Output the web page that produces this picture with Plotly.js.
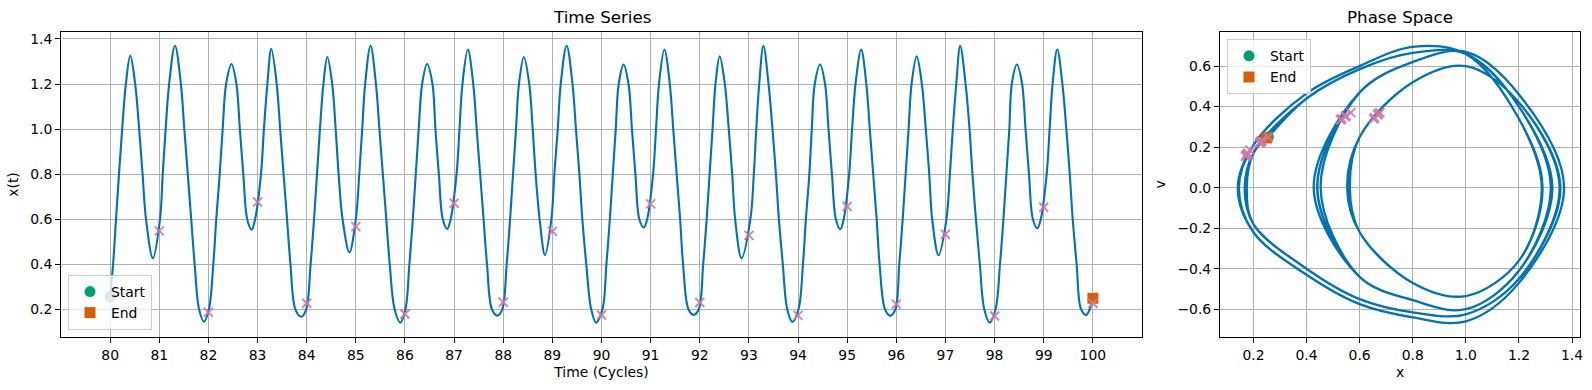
<!DOCTYPE html>
<html>
<head>
<meta charset="utf-8">
<script src="https://cdn.plot.ly/plotly-3.0.1.min.js"></script>
<style>
html, body { margin: 0; padding: 0; background: #ffffff; }
#chart { width: 1592px; height: 390px; }
</style>
</head>
<body>
<div id="chart"></div>
<script>
// ---- Trajectory samples (extrema and level crossings) ----
const timeCycles = [
  80.00, 80.06, 80.12, 80.18, 80.245, 80.32, 80.41,
  80.51, 80.59, 80.66, 80.73, 80.87,
  81.015, 81.07, 81.13, 81.20, 81.32,
  81.44, 81.51, 81.58, 81.65, 81.72, 81.81, 81.91,
  82.01, 82.10, 82.16, 82.23, 82.29, 82.36, 82.47,
  82.57, 82.64, 82.71, 82.79, 82.88,
  82.95, 83.07, 83.13, 83.20, 83.28,
  83.39, 83.46, 83.53, 83.60, 83.67, 83.77, 83.89,
  83.99, 84.08, 84.15, 84.21, 84.27, 84.34, 84.42,
  84.52, 84.59, 84.65, 84.73, 84.87,
  85.00, 85.07, 85.13, 85.19, 85.30,
  85.41, 85.48, 85.55, 85.62, 85.69, 85.79, 85.905,
  86.01, 86.09, 86.16, 86.22, 86.28, 86.35, 86.45,
  86.56, 86.62, 86.69, 86.77, 86.86,
  86.93, 87.05, 87.11, 87.17, 87.28,
  87.39, 87.46, 87.53, 87.60, 87.67, 87.77, 87.88,
  87.98, 88.07, 88.14, 88.20, 88.26, 88.32, 88.42,
  88.53, 88.60, 88.66, 88.74, 88.85,
  88.98, 89.04, 89.11, 89.17, 89.29,
  89.41, 89.48, 89.55, 89.61, 89.69, 89.79, 89.89,
  90.02, 90.10, 90.17, 90.23, 90.29, 90.35, 90.45,
  90.55, 90.62, 90.69, 90.77, 90.86,
  90.93, 91.05, 91.11, 91.17, 91.28,
  91.39, 91.46, 91.53, 91.60, 91.66, 91.77, 91.875,
  91.98, 92.07, 92.14, 92.20, 92.26, 92.32, 92.405,
  92.51, 92.59, 92.66, 92.72, 92.85,
  93.03, 93.10, 93.15, 93.21, 93.295,
  93.40, 93.48, 93.55, 93.61, 93.69, 93.78, 93.885,
  94.01, 94.10, 94.16, 94.23, 94.28, 94.34, 94.45,
  94.55, 94.62, 94.69, 94.77, 94.86,
  94.93, 95.04, 95.10, 95.17, 95.285,
  95.39, 95.46, 95.53, 95.60, 95.66, 95.77, 95.875,
  95.98, 96.06, 96.13, 96.19, 96.25, 96.31, 96.415,
  96.52, 96.60, 96.67, 96.73, 96.86,
  97.02, 97.09, 97.15, 97.22, 97.30,
  97.41, 97.49, 97.55, 97.62, 97.70, 97.79, 97.90,
  98.02, 98.11, 98.18, 98.24, 98.30, 98.35, 98.455,
  98.56, 98.63, 98.70, 98.78, 98.87,
  98.94, 99.06, 99.12, 99.18, 99.275,
  99.38, 99.46, 99.53, 99.59, 99.67, 99.76, 99.865,
  99.935, 100.00
];
const xValues = [
  0.256, 0.4, 0.6, 0.8, 1.0, 1.2, 1.326,
  1.2, 1.0, 0.8, 0.6, 0.427,
  0.6, 0.8, 1.0, 1.2, 1.370,
  1.2, 1.0, 0.8, 0.6, 0.4, 0.2, 0.145,
  0.2, 0.4, 0.6, 0.8, 1.0, 1.2, 1.289,
  1.2, 1.0, 0.8, 0.6, 0.553,
  0.6, 0.8, 1.0, 1.2, 1.356,
  1.2, 1.0, 0.8, 0.6, 0.4, 0.2, 0.167,
  0.2, 0.4, 0.6, 0.8, 1.0, 1.2, 1.320,
  1.2, 1.0, 0.8, 0.6, 0.453,
  0.6, 0.8, 1.0, 1.2, 1.370,
  1.2, 1.0, 0.8, 0.6, 0.4, 0.2, 0.141,
  0.2, 0.4, 0.6, 0.8, 1.0, 1.2, 1.289,
  1.2, 1.0, 0.8, 0.6, 0.557,
  0.6, 0.8, 1.0, 1.2, 1.353,
  1.2, 1.0, 0.8, 0.6, 0.4, 0.2, 0.172,
  0.2, 0.4, 0.6, 0.8, 1.0, 1.2, 1.320,
  1.2, 1.0, 0.8, 0.6, 0.441,
  0.6, 0.8, 1.0, 1.2, 1.370,
  1.2, 1.0, 0.8, 0.6, 0.4, 0.2, 0.141,
  0.2, 0.4, 0.6, 0.8, 1.0, 1.2, 1.286,
  1.2, 1.0, 0.8, 0.6, 0.563,
  0.6, 0.8, 1.0, 1.2, 1.353,
  1.2, 1.0, 0.8, 0.6, 0.4, 0.2, 0.175,
  0.2, 0.4, 0.6, 0.8, 1.0, 1.2, 1.323,
  1.2, 1.0, 0.8, 0.6, 0.427,
  0.6, 0.8, 1.0, 1.2, 1.370,
  1.2, 1.0, 0.8, 0.6, 0.4, 0.2, 0.144,
  0.2, 0.4, 0.6, 0.8, 1.0, 1.2, 1.287,
  1.2, 1.0, 0.8, 0.6, 0.556,
  0.6, 0.8, 1.0, 1.2, 1.353,
  1.2, 1.0, 0.8, 0.6, 0.4, 0.2, 0.172,
  0.2, 0.4, 0.6, 0.8, 1.0, 1.2, 1.323,
  1.2, 1.0, 0.8, 0.6, 0.440,
  0.6, 0.8, 1.0, 1.2, 1.370,
  1.2, 1.0, 0.8, 0.6, 0.4, 0.2, 0.141,
  0.2, 0.4, 0.6, 0.8, 1.0, 1.2, 1.287,
  1.2, 1.0, 0.8, 0.6, 0.560,
  0.6, 0.8, 1.0, 1.2, 1.353,
  1.2, 1.0, 0.8, 0.6, 0.4, 0.2, 0.175,
  0.2, 0.249
];
const vValues = [
  0.25, 0.44, 0.585, 0.665, 0.66, 0.40, 0,
  -0.41, -0.60, -0.555, -0.44, 0,
  0.47, 0.62, 0.67, 0.46, 0,
  -0.47, -0.66, -0.64, -0.575, -0.43, -0.22, 0,
  0.21, 0.465, 0.60, 0.695, 0.66, 0.34, 0,
  -0.36, -0.535, -0.47, -0.22, 0,
  0.25, 0.52, 0.60, 0.42, 0,
  -0.45, -0.625, -0.615, -0.55, -0.40, -0.18, 0,
  0.17, 0.44, 0.585, 0.665, 0.66, 0.40, 0,
  -0.41, -0.60, -0.555, -0.44, 0,
  0.47, 0.62, 0.67, 0.46, 0,
  -0.47, -0.66, -0.64, -0.575, -0.43, -0.22, 0,
  0.21, 0.465, 0.60, 0.695, 0.66, 0.34, 0,
  -0.36, -0.535, -0.47, -0.22, 0,
  0.25, 0.52, 0.60, 0.42, 0,
  -0.45, -0.625, -0.615, -0.55, -0.40, -0.18, 0,
  0.17, 0.44, 0.585, 0.665, 0.66, 0.40, 0,
  -0.41, -0.60, -0.555, -0.44, 0,
  0.47, 0.62, 0.67, 0.46, 0,
  -0.47, -0.66, -0.64, -0.575, -0.43, -0.22, 0,
  0.21, 0.465, 0.60, 0.695, 0.66, 0.34, 0,
  -0.36, -0.535, -0.47, -0.22, 0,
  0.25, 0.52, 0.60, 0.42, 0,
  -0.45, -0.625, -0.615, -0.55, -0.40, -0.18, 0,
  0.17, 0.44, 0.585, 0.665, 0.66, 0.40, 0,
  -0.41, -0.60, -0.555, -0.44, 0,
  0.47, 0.62, 0.67, 0.46, 0,
  -0.47, -0.66, -0.64, -0.575, -0.43, -0.22, 0,
  0.21, 0.465, 0.60, 0.695, 0.66, 0.34, 0,
  -0.36, -0.535, -0.47, -0.22, 0,
  0.25, 0.52, 0.60, 0.42, 0,
  -0.45, -0.625, -0.615, -0.55, -0.40, -0.18, 0,
  0.17, 0.44, 0.585, 0.665, 0.66, 0.40, 0,
  -0.41, -0.60, -0.555, -0.44, 0,
  0.47, 0.62, 0.67, 0.46, 0,
  -0.47, -0.66, -0.64, -0.575, -0.43, -0.22, 0,
  0.21, 0.465, 0.60, 0.695, 0.66, 0.34, 0,
  -0.36, -0.535, -0.47, -0.22, 0,
  0.25, 0.52, 0.60, 0.42, 0,
  -0.45, -0.625, -0.615, -0.55, -0.40, -0.18, 0,
  0.17, 0.245
];

// ---- Stroboscopic samples (once per cycle) ----
const strobeTimes = [80, 81, 82, 83, 84, 85, 86, 87, 88, 89, 90, 91, 92, 93, 94, 95, 96, 97, 98, 99, 100];
const strobeX = [0.256, 0.548, 0.187, 0.676, 0.227, 0.567, 0.179, 0.671, 0.231, 0.546, 0.175,
                 0.668, 0.230, 0.528, 0.173, 0.656, 0.223, 0.533, 0.170, 0.653, 0.227];
const strobeV = [0.25, 0.355, 0.185, 0.37, 0.225, 0.37, 0.17, 0.365, 0.23, 0.35, 0.165,
                 0.36, 0.23, 0.335, 0.16, 0.345, 0.22, 0.34, 0.155, 0.34, 0.225];

// ---- Start / end points ----
const startT = [80];   const startX = [0.256]; const startV = [0.25];
const endT = [100];    const endX = [0.249];   const endV = [0.245];

// ---- Tick labels ----
const timeTicks = [80, 81, 82, 83, 84, 85, 86, 87, 88, 89, 90, 91, 92, 93, 94, 95, 96, 97, 98, 99, 100];
const timeTickLabels = timeTicks.map(String);
const xTicks = [0.2, 0.4, 0.6, 0.8, 1.0, 1.2, 1.4];
const xTickLabels = ['0.2', '0.4', '0.6', '0.8', '1.0', '1.2', '1.4'];
const vTicks = [-0.6, -0.4, -0.2, 0.0, 0.2, 0.4, 0.6];
const vTickLabels = ['\u22120.6', '\u22120.4', '\u22120.2', '0.0', '0.2', '0.4', '0.6'];

// ---- Styling ----
const BLUE = '#0072B2', GREEN = '#009E73', ORANGE = '#D55E00', PINK = 'rgba(204,121,167,0.9)';
const FONT = 'DejaVu Sans, Verdana, sans-serif';
const FS = 13.9;

const axisCommon = {
  showline: true, linecolor: '#000000', linewidth: 1, mirror: true,
  ticks: 'outside', ticklen: 5, tickwidth: 1, tickcolor: '#000000',
  showgrid: true, gridcolor: '#b0b0b0', gridwidth: 1,
  zeroline: false, fixedrange: true,
  tickfont: { family: FONT, size: FS, color: '#000000' }
};

const traces = [
  { x: timeCycles, y: xValues, type: 'scatter', mode: 'lines',
    line: { color: BLUE, width: 2.1, shape: 'spline', smoothing: 1 },
    xaxis: 'x', yaxis: 'y', showlegend: false, hoverinfo: 'skip' },
  { x: startT, y: startX, type: 'scatter', mode: 'markers', name: 'Start',
    marker: { symbol: 'circle', size: 11, color: GREEN },
    xaxis: 'x', yaxis: 'y', legend: 'legend' },
  { x: endT, y: endX, type: 'scatter', mode: 'markers', name: 'End',
    marker: { symbol: 'square', size: 11, color: ORANGE },
    xaxis: 'x', yaxis: 'y', legend: 'legend' },
  { x: strobeTimes, y: strobeX, type: 'scatter', mode: 'markers',
    marker: { symbol: 'x-thin', size: 9, color: PINK, line: { color: PINK, width: 2 } },
    xaxis: 'x', yaxis: 'y', showlegend: false },

  { x: xValues, y: vValues, type: 'scatter', mode: 'lines',
    line: { color: BLUE, width: 2.3, shape: 'spline', smoothing: 1 },
    xaxis: 'x2', yaxis: 'y2', showlegend: false, hoverinfo: 'skip' },
  { x: startX, y: startV, type: 'scatter', mode: 'markers', name: 'Start',
    marker: { symbol: 'circle', size: 11, color: GREEN },
    xaxis: 'x2', yaxis: 'y2', legend: 'legend2' },
  { x: endX, y: endV, type: 'scatter', mode: 'markers', name: 'End',
    marker: { symbol: 'square', size: 11, color: ORANGE },
    xaxis: 'x2', yaxis: 'y2', legend: 'legend2' },
  { x: strobeX, y: strobeV, type: 'scatter', mode: 'markers',
    marker: { symbol: 'x-thin', size: 9, color: PINK, line: { color: PINK, width: 2 } },
    xaxis: 'x2', yaxis: 'y2', showlegend: false }
];

const legendCommon = {
  bgcolor: 'rgba(255,255,255,0.8)', bordercolor: '#cccccc', borderwidth: 1,
  font: { family: FONT, size: FS, color: '#000000' },
  xanchor: 'left', tracegroupgap: 0, itemsizing: 'trace', itemwidth: 32
};

const layout = {
  width: 1592, height: 390,
  margin: { l: 61, r: 12, t: 32, b: 53, pad: 0 },
  paper_bgcolor: '#ffffff', plot_bgcolor: '#ffffff',
  font: { family: FONT, size: FS, color: '#000000' },
  showlegend: true,
  xaxis: Object.assign({}, axisCommon, {
    domain: [0, 0.71165], anchor: 'y', range: [79, 101],
    tickmode: 'array', tickvals: timeTicks, ticktext: timeTickLabels,
    title: { text: 'Time (Cycles)', standoff: 5, font: { family: FONT, size: FS } }
  }),
  yaxis: Object.assign({}, axisCommon, {
    domain: [0, 1], anchor: 'x', range: [0.077, 1.431],
    tickmode: 'array', tickvals: xTicks, ticktext: xTickLabels,
    title: { text: 'x(t)', standoff: 8, font: { family: FONT, size: FS } }
  }),
  xaxis2: Object.assign({}, axisCommon, {
    domain: [0.763, 1], anchor: 'y2', range: [0.074, 1.430],
    tickmode: 'array', tickvals: xTicks, ticktext: xTickLabels,
    title: { text: 'x', standoff: 5, font: { family: FONT, size: FS } }
  }),
  yaxis2: Object.assign({}, axisCommon, {
    domain: [0, 1], anchor: 'x2', range: [-0.737, 0.768],
    tickmode: 'array', tickvals: vTicks, ticktext: vTickLabels,
    title: { text: 'v', standoff: 8, font: { family: FONT, size: FS } }
  }),
  legend: Object.assign({}, legendCommon, { x: 0.0046, y: 0.023, yanchor: 'bottom' }),
  legend2: Object.assign({}, legendCommon, { x: 0.7676, y: 0.976, yanchor: 'top' }),
  annotations: [
    { text: 'Time Series', xref: 'paper', yref: 'paper', x: 0.35583, y: 1,
      xanchor: 'center', yanchor: 'bottom', yshift: 3, showarrow: false,
      font: { family: FONT, size: 16.7, color: '#000000' } },
    { text: 'Phase Space', xref: 'paper', yref: 'paper', x: 0.8815, y: 1,
      xanchor: 'center', yanchor: 'bottom', yshift: 3, showarrow: false,
      font: { family: FONT, size: 16.7, color: '#000000' } }
  ]
};

Plotly.newPlot('chart', traces, layout, { displayModeBar: false, staticPlot: true, responsive: false });
</script>
</body>
</html>
